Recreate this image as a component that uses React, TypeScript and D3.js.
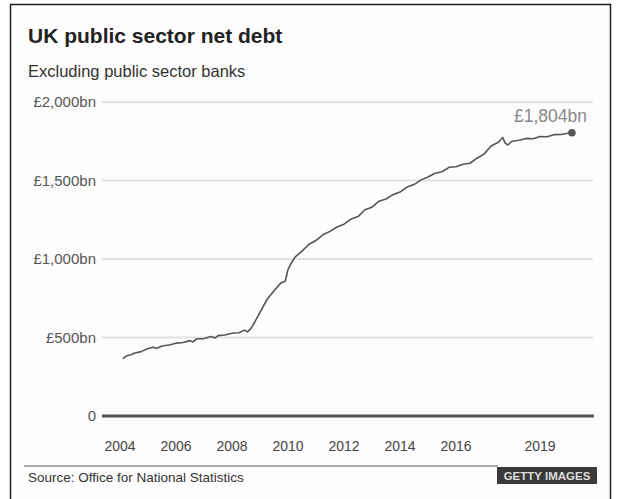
import React from "react";
import * as d3 from "d3";

const W = 617;
const H = 499;

const title = "UK public sector net debt";
const subtitle = "Excluding public sector banks";
const source = "Source: Office for National Statistics";
const credit = "GETTY IMAGES";
const endLabel = "£1,804bn";

const yTicks = [0, 500, 1000, 1500, 2000];
const yTickLabels = ["0", "£500bn", "£1,000bn", "£1,500bn", "£2,000bn"];
const xTicks = [2004, 2006, 2008, 2010, 2012, 2014, 2016, 2019];

// decimal year of each reading
const dates = [
  2004.1, 2004.25, 2004.4, 2004.5, 2004.75, 2005.0, 2005.2, 2005.3, 2005.5, 2005.75,
  2006.0, 2006.25, 2006.5, 2006.6, 2006.75, 2007.0, 2007.25, 2007.4, 2007.5, 2007.75,
  2008.0, 2008.25, 2008.45, 2008.55, 2008.65, 2008.75, 2009.0, 2009.25, 2009.5, 2009.75,
  2009.9, 2010.0, 2010.1, 2010.25, 2010.5, 2010.75, 2011.0, 2011.25, 2011.5, 2011.75,
  2012.0, 2012.25, 2012.5, 2012.75, 2013.0, 2013.25, 2013.5, 2013.75, 2014.0, 2014.25,
  2014.5, 2014.75, 2015.0, 2015.25, 2015.5, 2015.75, 2016.0, 2016.25, 2016.5, 2016.75,
  2017.0, 2017.25, 2017.5, 2017.67, 2017.75, 2017.85, 2018.0, 2018.25, 2018.5, 2018.75,
  2019.0, 2019.25, 2019.5, 2019.75, 2020.0, 2020.14,
];
// £bn
const debt = [
  365, 384, 390, 400, 410, 430, 438, 430, 446, 452,
  464, 468, 480, 472, 492, 493, 507, 497, 512, 516,
  527, 530, 547, 536, 552, 578, 660, 742, 798, 848,
  858, 932, 968, 1012, 1050, 1094, 1118, 1154, 1176, 1204,
  1222, 1254, 1270, 1314, 1330, 1368, 1382, 1410, 1426, 1458,
  1474, 1504, 1522, 1546, 1556, 1584, 1588, 1604, 1610, 1642,
  1668, 1720, 1742, 1774, 1740, 1726, 1750, 1756, 1768, 1766,
  1780, 1779, 1792, 1793, 1801, 1804,
];

const FONT = "'Liberation Sans', Arial, Helvetica, sans-serif";

export default function App() {
  const x = d3.scaleLinear().domain([2004, 2019]).range([120, 540]);
  const y = d3.scaleLinear().domain([0, 2000]).range([416, 102]);
  const pts = dates.map((d, i) => [d, debt[i]] as [number, number]);
  const line = d3
    .line<[number, number]>()
    .x((d) => x(d[0]))
    .y((d) => y(d[1]));
  const last = pts[pts.length - 1];

  return (
    <svg
      width={W}
      height={H}
      viewBox={`0 0 ${W} ${H}`}
      style={{ position: "absolute", left: 0, top: 0, background: "#fff" }}
      fontFamily={FONT}
    >
      <rect x={0} y={0} width={W} height={H} fill="#fff" />
      <rect x={10.5} y={4.5} width={600} height={530} fill="#fdfdfd" stroke="#222" strokeWidth={1.5} />

      <text x={28} y={43} fontSize={21} fontWeight="bold" fill="#222">
        {title}
      </text>
      <text x={28} y={77} fontSize={16.5} fill="#333">
        {subtitle}
      </text>

      {yTicks.map((t) =>
        t === 0 ? null : (
          <line key={"g" + t} x1={102} x2={593} y1={y(t)} y2={y(t)} stroke="#e2e2e2" strokeWidth={2} />
        )
      )}
      {yTicks.map((t, i) => (
        <text
          key={"yl" + t}
          x={96}
          y={y(t)}
          dy="0.35em"
          textAnchor="end"
          fontSize={15}
          fill="#555"
        >
          {yTickLabels[i]}
        </text>
      ))}
      <line x1={102} x2={594} y1={y(0)} y2={y(0)} stroke="#555" strokeWidth={3} />

      {xTicks.map((t) => (
        <text key={"xl" + t} x={x(t)} y={451} textAnchor="middle" fontSize={14} fill="#444">
          {t}
        </text>
      ))}

      <path d={line(pts) || ""} fill="none" stroke="#555" strokeWidth={1.6} strokeLinejoin="round" />
      <circle cx={x(last[0])} cy={y(last[1])} r={3.8} fill="#555" />
      <text x={587} y={122} textAnchor="end" fontSize={17.5} fill="#888">
        {endLabel}
      </text>

      <line x1={24} x2={498} y1={466} y2={466} stroke="#aaa" strokeWidth={2} />
      <text x={28} y={482} fontSize={13.5} fill="#333">
        {source}
      </text>
      <rect x={497} y={467} width={100} height={17} fill="#3a3a3a" />
      <text x={547} y={480} textAnchor="middle" fontSize={11.5} fontWeight="bold" fill="#ddd">
        {credit}
      </text>
    </svg>
  );
}
